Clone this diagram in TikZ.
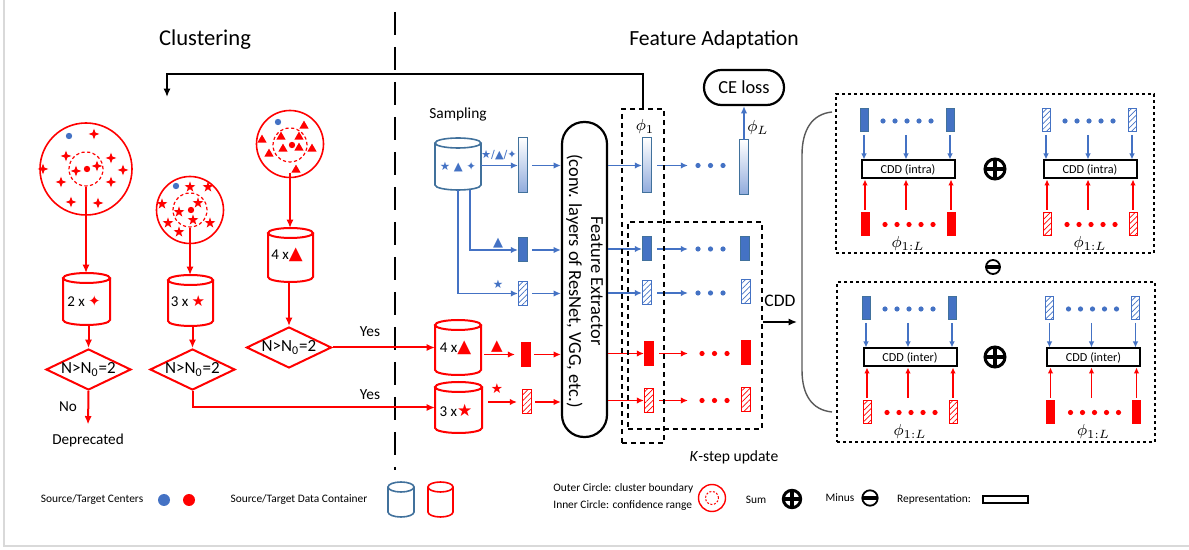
\documentclass[tikz,border=0pt]{standalone}
\usepackage{fontspec}
\setmainfont{Carlito}
\newfontfamily\sym{DejaVu Sans}
\usetikzlibrary{arrows.meta,shapes.geometric,patterns.meta,calc}
\definecolor{cblue}{HTML}{4472C4}
\definecolor{cbdk}{HTML}{41719C}
\definecolor{cgrad}{HTML}{8FAADC}
\definecolor{cred}{HTML}{FF0000}
\newcommand\fs[2]{\fontsize{#1}{#2}\selectfont}
\tikzset{
  rarr/.style={cred, line width=1pt, -{Latex[length=4.2pt,width=3.6pt]}},
  rarrs/.style={cred, line width=0.8pt, -{Latex[length=3.6pt,width=3.2pt]}},
  barr/.style={cblue, line width=0.75pt, -{Latex[length=3.6pt,width=3.2pt]}},
  karr/.style={black, line width=1pt, -{Latex[length=4.2pt,width=3.6pt]}},
  sbarr/.style={cblue, line width=0.7pt, shorten <=1.5pt, -{Latex[length=3pt,width=2.8pt]}},
  srarr/.style={cred, line width=0.9pt, shorten <=1.5pt, -{Latex[length=3pt,width=2.8pt]}},
  bar/.style={minimum width=4.5pt, minimum height=12pt, inner sep=0pt, outer sep=0pt, line width=0.5pt},
  rb/.style={minimum width=4pt, minimum height=11.5pt},
  bgrad/.style={bar, draw=cbdk, top color=white, bottom color=cgrad, minimum height=27.5pt},
  bsolid/.style={bar, fill=cblue, draw=cbdk},
  bhatch/.style={bar, draw=cblue, pattern={Lines[angle=45,distance=2pt,line width=0.35pt]}, pattern color=cblue},
  rsolid/.style={bar, fill=cred, draw=cred},
  rhatch/.style={bar, draw=cred, pattern={Lines[angle=45,distance=2pt,line width=0.35pt]}, pattern color=cred},
  clu/.style={circle, draw=cred, line width=0.8pt, inner sep=0pt},
  inn/.style={circle, draw=cred, line width=0.6pt, dash pattern=on 1.6pt off 1.2pt, minimum size=17pt, inner sep=0pt},
  dia/.style={diamond, draw=cred, line width=1pt, minimum width=42.5pt, minimum height=20.5pt, inner sep=0pt, aspect=2, font=\fs{8.5}{10}},
  dbox/.style={draw, line width=1.1pt, dash pattern=on 2.5pt off 2pt, inner sep=0pt},
  rbox/.style={draw, line width=0.6pt, dash pattern=on 1.5pt off 1.5pt, inner sep=0pt},
  cddbox/.style={draw, line width=1pt, minimum width=46.5pt, minimum height=9pt, inner sep=0pt, font=\fs{6.1}{7}},
  fst/.pic={\fill[cred] (90:2.7pt)--(135:1pt)--(180:2.7pt)--(225:1pt)--(270:2.7pt)--(315:1pt)--(0:2.7pt)--(45:1pt)--cycle;},
  st5/.pic={\fill[cred] (90:2.8pt)--(126:1.1pt)--(162:2.8pt)--(198:1.1pt)--(234:2.8pt)--(270:1.1pt)--(306:2.8pt)--(342:1.1pt)--(18:2.8pt)--(54:1.1pt)--cycle;},
  tri/.pic={\fill[cred] (90:2.7pt)--(210:2.7pt)--(330:2.7pt)--cycle;},
  plussym/.pic={\draw[line width=1.5pt] (0,0) circle[radius=5pt]; \draw[line width=2.4pt] (-5pt,0)--(5pt,0) (0,-5pt)--(0,5pt);},
  minussym/.pic={\draw[line width=0.9pt] (0,0) circle[radius=3.5pt]; \draw[line width=1.8pt] (-3.5pt,0)--(3.5pt,0);},
}
% cylinder: [line width] name, colour, cx, top, bottom, half width (px)
\newcommand\cyl[7][1pt]{%
  \node[inner sep=0pt, outer sep=0pt, minimum width={#7*1pt}, minimum height={(#6-#5)*0.5pt}] (#2) at (#4,{(#5+#6)/2}) {};
  \draw[draw=#3, line width=#1] (#4,{#5+5}) ellipse[x radius={#7*0.5pt}, y radius=2.5pt];
  \draw[draw=#3, line width=#1] ({#4-#7},{#5+5}) -- ({#4-#7},{#6-5}) arc[start angle=180, end angle=360, x radius={#7*0.5pt}, y radius=2.5pt] -- ({#4+#7},{#5+5});
}
\newcommand\cddgrp[6]{%
  \node[cddbox] (#1c) at (#2,#3) {#6};
  \node[#4,rb] (#1t1) at ({#2-44},{#3-49}) {};
  \node[#4,rb] (#1t2) at ({#2+42},{#3-49}) {};
  \node[#5,rb] (#1b1) at ({#2-43},{#3+55}) {};
  \node[#5,rb] (#1b2) at ({#2+43},{#3+55}) {};
  \coordinate (#1tm) at ({#2-2},{#3-49});
  \coordinate (#1bm) at ({#2-2},{#3+55});
  \foreach \k in {0,...,4}{%
    \fill[cblue] ({#2-25+12*\k},{#3-48.5}) circle[radius=1.3pt];
    \fill[cred] ({#2-23+12*\k},{#3+55}) circle[radius=1.3pt];}
  \foreach \n in {t1,tm,t2}{\draw[sbarr] (#1\n |- #1t1.south) -- (#1\n |- #1c.north);}
  \foreach \n in {b1,bm,b2}{\draw[srarr] (#1\n |- #1b1.north) -- (#1\n |- #1c.south);}
  \node[font=\fs{8.5}{10}] (#1l) at (#2,{#3+74}) {$\phi_{1:L}$};
}
\newcommand\threedots[2]{\foreach \k in {0,1,2}{\fill[#2] ([xshift=\k*6.25pt]#1) circle[radius=1.3pt];}}

\begin{document}
\begin{tikzpicture}[x=0.5pt,y=-0.5pt]
\useasboundingbox (0,0) rectangle (1189,550);
\draw[black!15, line width=0.8pt] (4,0) -- (4,546) -- (1189,546);

% titles
\node[font=\fs{11.3}{13}] (tclu) at (205,40) {Clustering};
\node[font=\fs{10.8}{13}] (tfa) at (714,40) {Feature Adaptation};

% divider
\draw[black, line width=1.1pt, dash pattern=on 11.5pt off 6pt] (395,12) -- (395,470);

% ---------------- clustering ----------------
\node[clu, minimum size=46pt] (c1) at (86,169) {};
\node[inn] (i1) at (86,169) {};
\fill[cred] (87,169) circle[radius=1.6pt];
\fill[cblue] (69,136) circle[radius=1.6pt];
\foreach \x/\y in {94/134,66/156,111/158,43/169,76/171,97/166,123/170,61/182,111/182,71/202,98/203}
  \pic at (\x,\y) {fst};

\node[clu, minimum size=33.5pt] (c2) at (190,210) {};
\node[inn] (i2) at (190,210) {};
\fill[cred] (191,210) circle[radius=1.6pt];
\fill[cblue] (176,186) circle[radius=1.6pt];
\foreach \x/\y in {190/187,208/187,162/204,198/203,179/212,193/220,168/223,210/223,179/232}
  \pic at (\x,\y) {st5};

\node[clu, minimum size=33.5pt] (c3) at (290,144) {};
\node[inn] (i3) at (290,145) {};
\fill[cred] (292,145) circle[radius=1.6pt];
\fill[cblue] (278,122) circle[radius=1.6pt];
\foreach \x/\y in {304/126,262/140,281/137,299/137,269/154,283/149,299/148,312/149,296/170}
  \pic at (\x,\y) {tri};

\cyl{cy1}{cred}{86.5}{273}{325}{23.5}
\cyl{cy2}{cred}{190.5}{275}{326}{22.5}
\cyl{cy3}{cred}{290.5}{228}{282}{22.5}
\node[font=\fs{7.5}{9}] (cy1t) at (84,301) {2 x {\sym\color{cred}✦}};
\node[font=\fs{7.5}{9}] (cy2t) at (188,301) {3 x {\sym\color{cred}★}};
\node[font=\fs{7.5}{9}] (cy3t) at (287,255) {4 x{\sym\fs{9}{9}\color{cred}▲}};

\node[dia] (d1) at (88.5,369.5) {N>N\textsubscript{0}=2};
\node[dia] (d2) at (192.5,369.5) {N>N\textsubscript{0}=2};
\node[dia] (d3) at (289,347.5) {N>N\textsubscript{0}=2};

\draw[rarr] (i1.south) -- (i1.south |- cy1.north);
\draw[rarr] (i2.south) -- (i2.south |- cy2.north);
\draw[rarr, shorten <=5pt] (i3.south) -- (i3.south |- cy3.north);
\draw[rarr] (d1.north |- cy1.south) -- (d1.north);
\draw[rarr] (d2.north |- cy2.south) -- (d2.north);
\draw[rarr] (d3.north |- cy3.south) -- (d3.north);

\node[font=\fs{7.6}{9}] (dep) at (88,440) {Deprecated};
\node[font=\fs{7.6}{9}] (no) at (68,407) {No};
\draw[rarr, shorten >=1pt] (d1.south) -- (dep.north);

% ---------------- feature adaptation ----------------
\node[font=\fs{7.7}{9}] (samp) at (458,114) {Sampling};
\cyl[0.8pt]{cys}{cbdk}{458}{138}{190}{23}
\node[text=cblue, font=\sym\fs{5.8}{6}] (cyst) at (458,167) {★ ▲ ✦};

\cyl{cyA}{cred}{458}{320}{375}{23}
\cyl{cyB}{cred}{458.5}{382}{433}{23.5}
\node[font=\fs{7.5}{9}] (cyAt) at (455.5,348) {4 x{\sym\fs{9}{9}\color{cred}▲}};
\node[font=\fs{7.5}{9}] (cyBt) at (456,410) {3 x{\sym\fs{8.5}{9}\color{cred}★}};

\draw[rarr] (d3.east) -- (d3.east -| cyA.west);
\draw[rarr] (d2.south) |- (cyB.west);
\node[font=\fs{7.7}{9}] (yes1) at (370,332) {Yes};
\node[font=\fs{7.7}{9}] (yes2) at (370,395) {Yes};

\node[bgrad] (b1) at (522.5,165.5) {};
\node[bsolid] (b2) at (522.5,250) {};
\node[bhatch] (b3) at (522.5,293.5) {};
\node[rsolid] (b4) at (525.5,354.5) {};
\node[rhatch] (b5) at (526.5,402) {};

\node[text=cblue, font=\sym\fs{5.6}{6}] (lb1) at (499,155) {★/▲/✦};
\node[text=cblue, font=\sym\fs{6.5}{7}] (lb2) at (498,243) {▲};
\node[text=cblue, font=\sym\fs{5.8}{6}] (lb3) at (498,284) {★};
\node[text=cred, font=\sym\fs{7.5}{8}] (lb4) at (497,347) {▲};
\node[text=cred, font=\sym\fs{6.8}{7}] (lb5) at (497,389) {★};

\coordinate (s2) at (470,0);
\draw[barr] (cys.east |- b1.west) -- (b1.west);
\draw[barr] (cys.south -| s2) |- (b2.west);
\draw[barr] (cys.south) |- (b3.west);
\draw[rarrs, shorten <=1.5pt, shorten >=3pt] (cyA.east |- b4.west) -- (b4.west);
\draw[rarrs, shorten <=3pt, shorten >=2.5pt] (cyB.east |- b5.west) -- (b5.west);

\node[draw, line width=1.1pt, rounded corners=11pt, minimum width=22.5pt, minimum height=157.5pt, inner sep=0pt] (FE) at (584.5,279.5) {};
\node[rotate=-90, align=center, font=\fs{9.2}{11}] (FEt) at (584.5,281) {Feature Extractor\\(conv. layers of ResNet, VGG, etc.)};

\foreach \b in {b1,b2,b3}{\draw[barr, shorten <=2.5pt] (\b.east) -- (\b.east -| FE.west);}
\foreach \b in {b4,b5}{\draw[rarrs, shorten <=2pt] (\b.east) -- (\b.east -| FE.west);}

\node[bgrad] (r1) at (646.5,165.5) {};
\node[bsolid] (r2) at (646.5,249) {};
\node[bhatch] (r3) at (646.5,293) {};
\node[rsolid] (r4) at (648.5,353.5) {};
\node[rhatch] (r5) at (648.5,400.5) {};
\node[bgrad] (l1) at (744,167.5) {};
\node[bsolid] (l2) at (745,249) {};
\node[bhatch] (l3) at (745.5,291.5) {};
\node[rsolid] (l4) at (745.5,352.5) {};
\node[rhatch] (l5) at (745.5,399.5) {};

\coordinate (dt1) at (698,165.5);
\coordinate (dt2) at (698,249);
\coordinate (dt3) at (698,293);
\coordinate (dt4) at (702,353.5);
\coordinate (dt5) at (702,400.5);
\threedots{dt1}{cblue}\threedots{dt2}{cblue}\threedots{dt3}{cblue}
\threedots{dt4}{cred}\threedots{dt5}{cred}

\foreach \r/\d in {r1/dt1,r2/dt2,r3/dt3}{%
  \draw[barr] (\r.west -| FE.east) -- (\r.west);
  \draw[barr, shorten <=3pt, shorten >=5pt] (\r.east) -- (\d);}
\foreach \r/\d in {r4/dt4,r5/dt5}{%
  \draw[rarrs] (\r.west -| FE.east) -- (\r.west);
  \draw[rarrs, shorten <=3pt, shorten >=7pt] (\r.east) -- (\d);}

\node[draw, line width=1.1pt, rounded corners=8.7pt, minimum width=40pt, minimum height=17.5pt, inner sep=0pt, font=\fs{9.2}{11}] (CE) at (744,87.5) {CE loss};
\draw[barr] (l1.north) -- (l1.north |- CE.south);
\node[font=\fs{8.5}{10}] (phL) at (758,128) {$\phi_L$};
\node[font=\fs{8.5}{10}] (ph1) at (645,127) {$\phi_1$};

\node[dbox, minimum width=21pt, minimum height=167pt] (DB1) at (643,276) {};
\node[dbox, minimum width=67pt, minimum height=103.5pt] (DB2) at (695,325.5) {};

\coordinate (fbtop) at (167,74);
\coordinate (fbend) at (167,97);
\draw[karr] (DB1.north) |- (fbtop) -- (fbend);

\node[font=\fs{8.8}{10}] (cdd) at (780,301) {CDD};
\coordinate (cddend) at (797,322);
\draw[karr] (DB2.east |- cddend) -- (cddend);

\coordinate (brt) at (832,112);
\coordinate (brb) at (832,412);
\draw[black!65, line width=0.7pt] (brt) .. controls (812,114) and (802,130) .. (802,155) -- (802,370) .. controls (802,395) and (812,410) .. (brb);

\node[rbox, minimum width=159pt, minimum height=79.5pt] (TB) at (995,173.5) {};
\node[rbox, minimum width=159pt, minimum height=80pt] (BB) at (996,362) {};
\cddgrp{tl}{908}{169.5}{bsolid}{rsolid}{CDD (intra)}
\cddgrp{tr}{1090}{169.5}{bhatch}{rhatch}{CDD (intra)}
\cddgrp{bl}{910}{357.5}{bsolid}{rhatch}{CDD (inter)}
\cddgrp{br}{1093.5}{357.5}{bhatch}{rsolid}{CDD (inter)}
\pic at (995,169) {plussym};
\pic at (995,357) {plussym};
\pic at (993,267) {minussym};

\node[font=\fs{7.8}{9}] (ksu) at (734,457) {\textit{K}-step update};

% ---------------- legend ----------------
\node[font=\fs{5.7}{7}] (lg1) at (92,500) {Source/Target Centers};
\fill[cblue] (164,500) circle[radius=3pt];
\fill[cred] (189,500) circle[radius=3pt];
\node[font=\fs{5.7}{7}] (lg2) at (299,500) {Source/Target Data Container};
\cyl[0.8pt]{lgb}{cbdk}{401}{482}{517}{13}
\cyl[0.8pt]{lgr}{cred}{440.5}{482}{517}{12.5}
\node[font=\fs{5.7}{8.5}, align=left, anchor=west, inner sep=0pt] (lg3) at (553,497.5) {Outer Circle: cluster boundary\\Inner Circle: confidence range};
\node[circle, draw=cred, line width=0.7pt, minimum size=13.5pt, inner sep=0pt] (lgc) at (712,498) {};
\node[circle, draw=cred, line width=0.5pt, dash pattern=on 1pt off 0.8pt, minimum size=6.5pt, inner sep=0pt] (lgci) at (712,498) {};
\node[font=\fs{5.7}{7}] (lsum) at (756,500) {Sum};
\pic[scale=0.87] at (792,499) {plussym};
\node[font=\fs{5.7}{7}] (lmin) at (840,498) {Minus};
\pic[scale=1.1] at (870,498) {minussym};
\node[font=\fs{5.7}{7}] (lrep) at (934,499) {Representation:};
\node[draw, line width=0.8pt, minimum width=22.5pt, minimum height=3.5pt, inner sep=0pt] (lrect) at (1005.5,499.5) {};
\end{tikzpicture}
\end{document}
